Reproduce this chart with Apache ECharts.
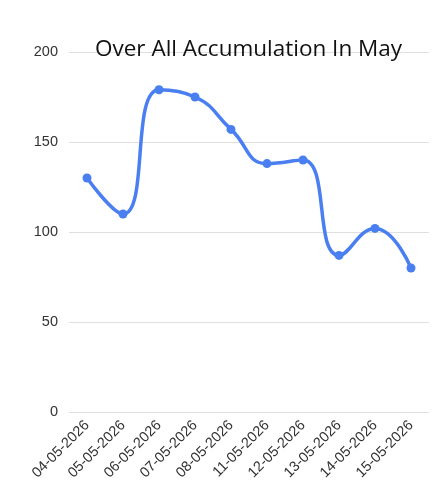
<!DOCTYPE html>
<html>
<head>
<meta charset="utf-8">
<script src="https://cdn.jsdelivr.net/npm/echarts@6/dist/echarts.min.js"></script>
<style>
  html, body { margin: 0; padding: 0; background: #fff; }
  #main { width: 438px; height: 487px; }
</style>
</head>
<body>
<div id="main"></div>
<script>
var dates = ['04-05-2026', '05-05-2026', '06-05-2026', '07-05-2026', '08-05-2026',
  '11-05-2026', '12-05-2026', '13-05-2026', '14-05-2026', '15-05-2026']
var totals = [130, 110, 179, 175, 157, 138, 140, 87, 102, 80]

var chart = echarts.init(document.getElementById('main'))
var option = {
  animation: false,
  title: {
    text: 'Over All Accumulation In May',
    left: 90,
    top: 33,
    textStyle: {
      fontFamily: 'Open Sans',
      fontSize: 22.5,
      fontWeight: 'normal',
      color: '#111'
    }
  },
  grid: {
    left: 69,
    right: 9,
    top: 52,
    bottom: 75
  },
  xAxis: {
    type: 'category',
    data: dates,
    boundaryGap: true,
    axisLine: { show: false },
    axisTick: { show: false },
    axisLabel: {
      rotate: 45,
      interval: 0,
      margin: 11,
      fontFamily: 'Liberation Sans',
      fontSize: 14.5,
      color: '#333'
    }
  },
  yAxis: {
    type: 'value',
    min: 0,
    max: 200,
    interval: 50,
    axisLine: { show: false },
    axisTick: { show: false },
    axisLabel: {
      margin: 11,
      fontFamily: 'Liberation Sans',
      fontSize: 14.5,
      color: '#333'
    },
    splitLine: { lineStyle: { color: '#e0e0e0' } }
  },
  series: [{
    type: 'line',
    data: totals,
    smooth: 0.5,
    symbol: 'circle',
    symbolSize: 9,
    itemStyle: { color: '#4a7ff2' },
    lineStyle: { color: '#4a7ff2', width: 3.5 }
  }]
}
chart.setOption(option)
</script>
</body>
</html>
